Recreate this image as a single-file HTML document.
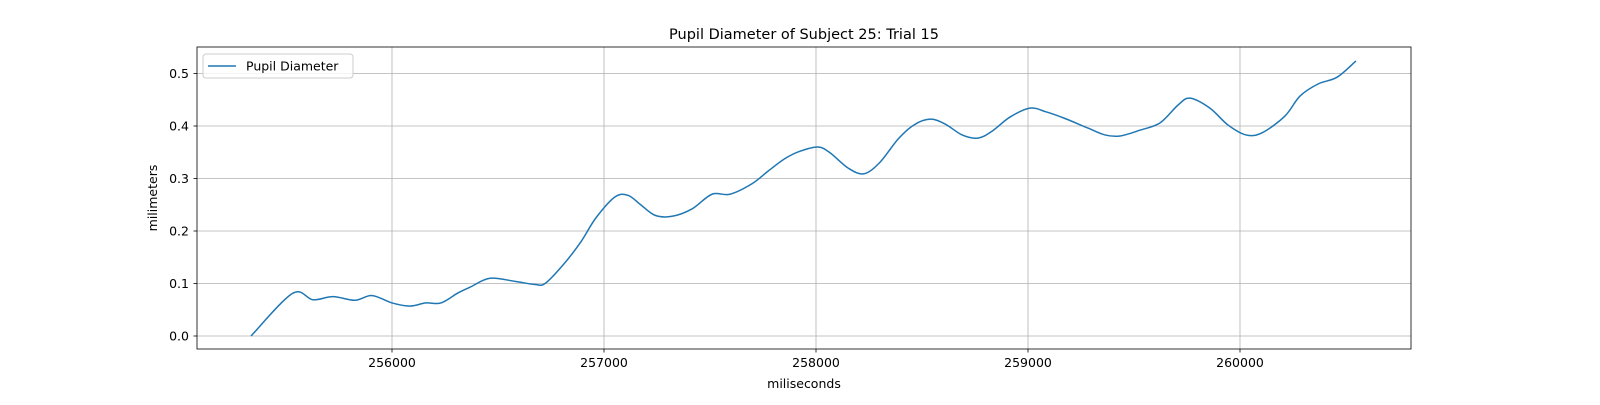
<!DOCTYPE html>
<html><head><meta charset="utf-8"><style>
body{margin:0;background:#fff;font-family:"Liberation Sans","DejaVu Sans",sans-serif;}
svg text{font-family:"DejaVu Sans","Liberation Sans",sans-serif;}
</style></head><body>
<svg id="chart" width="1600" height="400" viewBox="0 0 1600 400" xmlns="http://www.w3.org/2000/svg">
<rect width="1600" height="400" fill="#fff"/>
<g id="grid"></g>
<g id="ticks"></g>
<path id="line" fill="none" stroke="#1f77b4" stroke-width="1.5"/>
<rect x="197" y="47" width="1214" height="302" fill="none" stroke="#000" stroke-width="0.8"/>
<text x="804" y="39" font-size="14.5" text-anchor="middle">Pupil Diameter of Subject 25: Trial 15</text>
<text x="804" y="388" font-size="12.5" text-anchor="middle">miliseconds</text>
<text transform="translate(157,198) rotate(-90)" font-size="12.5" text-anchor="middle">milimeters</text>
<g>
<rect x="203" y="54" width="150" height="24" rx="3" fill="#fff" fill-opacity="0.8" stroke="#ccc"/>
<line x1="208" y1="66" x2="236" y2="66" stroke="#1f77b4" stroke-width="1.5"/>
<text x="246" y="70.5" font-size="12.5">Pupil Diameter</text>
</g>
</svg>
<script>
const times=[255335,255530,255627,255722,255825,255906,256000,256085,256160,256231,256311,256368,256462,256580,256675,256722,256802,256887,256962,257052,257113,257170,257240,257321,257415,257509,257594,257698,257774,257854,257925,258009,258066,258151,258226,258302,258387,258462,258538,258608,258689,258764,258830,258915,259009,259085,259170,259283,259363,259434,259528,259623,259708,259764,259858,259943,260028,260104,260212,260283,260368,260458,260547];
const diam=[0,0.081,0.069,0.075,0.068,0.077,0.063,0.057,0.063,0.063,0.082,0.093,0.11,0.104,0.098,0.1,0.133,0.177,0.225,0.265,0.268,0.251,0.23,0.228,0.242,0.27,0.27,0.29,0.314,0.338,0.352,0.36,0.349,0.32,0.309,0.331,0.375,0.402,0.413,0.404,0.383,0.377,0.39,0.417,0.434,0.427,0.415,0.396,0.383,0.381,0.392,0.406,0.44,0.453,0.434,0.402,0.383,0.387,0.419,0.457,0.48,0.493,0.524];
const xTicks=[256000,257000,258000,259000,260000];
const yTicks=[0.0,0.1,0.2,0.3,0.4,0.5];
const X=v=>392+(v-256000)*0.212;
const Y=v=>336-v*525;
const NS="http://www.w3.org/2000/svg";
const grid=document.getElementById('grid'),tk=document.getElementById('ticks');
function mk(tag,attrs,parent){const e=document.createElementNS(NS,tag);for(const k in attrs)e.setAttribute(k,attrs[k]);parent.appendChild(e);return e;}
xTicks.forEach(t=>{const x=X(t);
 const g=mk('line',{x1:x,x2:x,y1:47,y2:349,stroke:'#b0b0b0','stroke-width':0.8},grid);
 
 
 mk('line',{x1:x,x2:x,y1:349,y2:352.5,stroke:'#000','stroke-width':0.8},tk);
 const l=mk('text',{x:x,y:367,'font-size':12.5,'text-anchor':'middle'},tk);l.textContent=t;
 
 });
yTicks.forEach(t=>{const y=Y(t);
 const g=mk('line',{x1:197,x2:1411,y1:y,y2:y,stroke:'#b0b0b0','stroke-width':0.8},grid);
 
 
 mk('line',{x1:193.5,x2:197,y1:y,y2:y,stroke:'#000','stroke-width':0.8},tk);
 const l=mk('text',{x:189,y:y+4.5,'font-size':12.5,'text-anchor':'end'},tk);l.textContent=t.toFixed(1);
 
 });
const P=times.map((t,i)=>[X(t),Y(diam[i])]);
let d='M'+P[0][0]+','+P[0][1];
for(let i=0;i<P.length-1;i++){const p0=P[Math.max(0,i-1)],p1=P[i],p2=P[i+1],p3=P[Math.min(P.length-1,i+2)];
 const c1=[p1[0]+(p2[0]-p0[0])/6,p1[1]+(p2[1]-p0[1])/6],c2=[p2[0]-(p3[0]-p1[0])/6,p2[1]-(p3[1]-p1[1])/6];
 d+=` C${c1[0]},${c1[1]} ${c2[0]},${c2[1]} ${p2[0]},${p2[1]}`;}
document.getElementById('line').setAttribute('d',d);
</script>
</body></html>
